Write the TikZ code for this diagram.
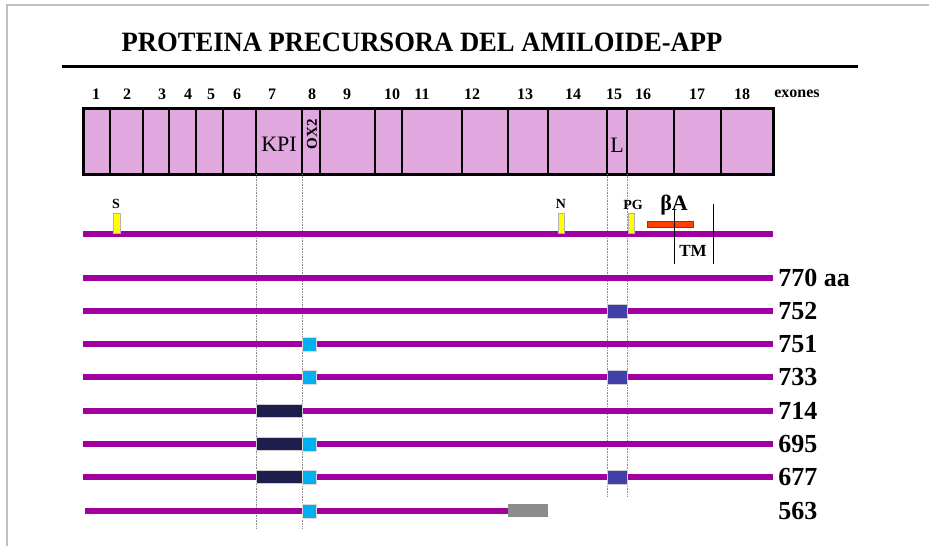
\documentclass[tikz,border=0pt]{standalone}
\usepackage{fontspec}
\setmainfont{Liberation Serif}
\definecolor{exonfill}{RGB}{224,168,222}
\definecolor{chaincol}{RGB}{160,0,160}
\definecolor{kpicol}{RGB}{30,30,76}
\definecolor{oxcol}{RGB}{0,176,240}
\definecolor{lcol}{RGB}{64,64,168}
\definecolor{sigcol}{RGB}{255,255,0}
\definecolor{betacol}{RGB}{255,64,0}
\tikzset{
  isoline/.style={line width=6pt, draw=chaincol},
  exonnum/.style={font=\fontsize{16}{16}\selectfont\bfseries, inner sep=0pt},
  isolabel/.style={font=\fontsize{26}{26}\selectfont\bfseries, anchor=west, inner sep=0pt},
  sitelabel/.style={font=\fontsize{14}{14}\selectfont\bfseries, inner sep=0pt},
  sitebox/.style={fill=sigcol, draw=black!30, line width=0.5pt},
  guide/.style={draw=black!45, densely dotted, line width=0.6pt},
  kpiins/.style={fill=kpicol, draw=black!20, line width=0.4pt},
  oxins/.style={fill=oxcol, draw=black!15, line width=0.4pt},
  lins/.style={fill=lcol, draw=black!20, line width=0.4pt},
}
\begin{document}
\begin{tikzpicture}[thick, x=1pt, y=-1pt]
\useasboundingbox (0,0) rectangle (929,546);
%
\draw[black!25, line width=1.5pt] (7,546) -- (7,5) -- (929,5);
%
\node[font=\fontsize{28}{28}\selectfont\bfseries, xscale=0.95] (title) at (422,42) {PROTEINA PRECURSORA DEL AMILOIDE-APP};
\draw[line width=3pt] (62,66) -- (858,66);
%
\foreach \x/\n in {96/1,127/2,162/3,188/4,211/5,237/6,272/7,312/8,347/9,392/10,422/11,472/12,525/13,573/14,614/15,643/16,697/17,742/18}
  \node[exonnum] (num\n) at (\x,94) {\n};
\node[exonnum] (exones) at (797,94) {exones};
%
\draw[fill=exonfill, line width=3pt] (83,108) rectangle (773,174);
\draw[line width=2pt] \foreach \x in {110,143,169,196,223,256,302,320,375,402,462,508,548,607,627,674,721} {(\x,108) -- (\x,174)};
%
\node[font=\fontsize{22}{22}\selectfont, inner sep=0pt] (kpi) at (279,144) {KPI};
\node[font=\fontsize{15}{15}\selectfont\bfseries, inner sep=0pt, rotate=90] (ox) at (312,134) {OX2};
\node[font=\fontsize{22}{22}\selectfont, inner sep=0pt] (lbl) at (617,145) {L};
%
\draw[guide] (256,174) -- (256,528) (302,174) -- (302,528);
\draw[guide] (607,174) -- (607,496) (627,174) -- (627,496);
%
\draw[isoline] (83,234) -- (773,234);
\draw[sitebox] (113,213) rectangle (120,233);
\draw[sitebox] (558,213) rectangle (564,233);
\draw[sitebox] (628,213) rectangle (634,233);
\node[sitelabel] (sig) at (116,204) {S};
\node[sitelabel] (nsite) at (561,204) {N};
\node[sitelabel] (pg) at (633,205) {PG};
\draw[fill=betacol, draw=black!70, line width=0.6pt] (647,221) rectangle (693,227);
\node[font=\fontsize{22}{22}\selectfont\bfseries, inner sep=0pt] (beta) at (674,205) {βA};
\draw[line width=0.8pt] (674,210) -- (674,264) (713,204) -- (713,264);
\node[font=\fontsize{17}{17}\selectfont\bfseries, inner sep=0pt] (tm) at (693,251) {TM};
%
\foreach \y/\lab [count=\i] in {278/770 aa,311/752,344/751,377/733,411/714,444/695,477/677,511/563}
  \node[isolabel] (iso\i) at (778,\y) {\lab};
\foreach \y in {278,311,344,377,411,444,477}
  \draw[isoline] (83,\y) -- (773,\y);
\draw[isoline] (85,511) -- (508,511);
\fill[black!45] (508,504) rectangle (548,517);
%
\foreach \y in {411,444,477}
  \draw[kpiins] (256,\y-6.5) rectangle (302,\y+6.5);
\foreach \y in {344,377,444,477,511}
  \draw[oxins] (302,\y-7) rectangle (316,\y+7);
\foreach \y in {311,377,477}
  \draw[lins] (607,\y-7) rectangle (627,\y+7);
%
\end{tikzpicture}
\end{document}
